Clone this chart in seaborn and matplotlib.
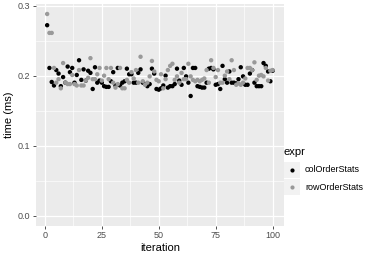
import matplotlib
matplotlib.use("Agg")
import matplotlib.pyplot as plt
from matplotlib.lines import Line2D
from matplotlib.patches import Rectangle
import seaborn as sns
import pandas as pd
import numpy as np

# data
iterations = list(range(1, 101))
col_order_stats = [
    0.272, 0.211, 0.191, 0.186, 0.208, 0.203, 0.185, 0.198, 0.190, 0.213,
    0.205, 0.211, 0.190, 0.201, 0.222, 0.194, 0.209, 0.193, 0.207, 0.204,
    0.181, 0.212, 0.190, 0.193, 0.190, 0.185, 0.184, 0.184, 0.192, 0.205,
    0.186, 0.211, 0.186, 0.190, 0.192, 0.210, 0.202, 0.202, 0.190, 0.190,
    0.204, 0.209, 0.190, 0.188, 0.185, 0.188, 0.210, 0.203, 0.181, 0.180,
    0.182, 0.186, 0.200, 0.183, 0.185, 0.185, 0.188, 0.210, 0.193, 0.187,
    0.211, 0.199, 0.190, 0.171, 0.211, 0.211, 0.185, 0.184, 0.183, 0.183,
    0.190, 0.210, 0.211, 0.209, 0.187, 0.188, 0.181, 0.214, 0.195, 0.190,
    0.206, 0.190, 0.190, 0.189, 0.195, 0.212, 0.199, 0.187, 0.187, 0.203,
    0.208, 0.190, 0.185, 0.185, 0.185, 0.218, 0.214, 0.206, 0.192, 0.207,
]
row_order_stats = [
    0.288, 0.261, 0.261, 0.211, 0.190, 0.195, 0.182, 0.218, 0.190, 0.188,
    0.188, 0.201, 0.188, 0.186, 0.208, 0.186, 0.186, 0.193, 0.197, 0.225,
    0.195, 0.195, 0.202, 0.211, 0.193, 0.200, 0.211, 0.195, 0.211, 0.190,
    0.183, 0.188, 0.211, 0.182, 0.182, 0.194, 0.190, 0.205, 0.196, 0.208,
    0.190, 0.227, 0.192, 0.187, 0.190, 0.199, 0.221, 0.206, 0.194, 0.192,
    0.202, 0.182, 0.195, 0.208, 0.214, 0.217, 0.194, 0.199, 0.190, 0.204,
    0.195, 0.195, 0.217, 0.199, 0.194, 0.192, 0.194, 0.192, 0.194, 0.196,
    0.208, 0.190, 0.222, 0.211, 0.198, 0.208, 0.190, 0.190, 0.200, 0.206,
    0.195, 0.222, 0.208, 0.187, 0.189, 0.187, 0.190, 0.196, 0.211, 0.211,
    0.208, 0.219, 0.194, 0.200, 0.201, 0.199, 0.211, 0.193, 0.207, 0.208,
]
expr_names = ["colOrderStats", "rowOrderStats"]
expr_colors = ["black", "#999999"]
x_ticks = [0, 25, 50, 75, 100]
y_ticks = [0.0, 0.1, 0.2, 0.3]

df = pd.DataFrame({
    "iteration": iterations * 2,
    "time": col_order_stats + row_order_stats,
    "expr": [expr_names[0]] * 100 + [expr_names[1]] * 100,
})

plt.rcParams['font.family'] = ['Liberation Sans', 'DejaVu Sans']

fig = plt.figure(figsize=(3.9, 2.6), dpi=100)
ax = fig.add_axes([0.092, 0.131, 0.636, 0.854])
ax.set_facecolor("#EBEBEB")

sns.scatterplot(data=df, x="iteration", y="time", hue="expr",
                palette=dict(zip(expr_names, expr_colors)),
                s=10, linewidth=0, legend=False, ax=ax, zorder=3)

# ggplot-like limits (5% expansion, y includes 0)
xr = df["iteration"].max() - df["iteration"].min()
ax.set_xlim(df["iteration"].min() - 0.05 * xr, df["iteration"].max() + 0.05 * xr)
ymax = df["time"].max()
ax.set_ylim(-0.05 * ymax, ymax * 1.05)

ax.set_xticks(x_ticks)
ax.set_yticks(y_ticks)
ax.set_yticklabels(["0.0", "0.1", "0.2", "0.3"])
ax.set_xticks([12.5, 37.5, 62.5, 87.5], minor=True)
ax.set_yticks([0.05, 0.15, 0.25], minor=True)
ax.grid(which="major", color="white", linewidth=0.9)
ax.grid(which="minor", color="white", linewidth=0.45)
ax.set_axisbelow(True)
for sp in ax.spines.values():
    sp.set_visible(False)
ax.tick_params(which="major", length=2.5, width=0.6, color="#333333",
               labelsize=6.5, labelcolor="#4D4D4D", pad=1.5)
ax.tick_params(which="minor", length=0)

ax.set_xlabel("iteration", fontsize=8, color="black", labelpad=2)
ax.set_ylabel("time (ms)", fontsize=8, color="black", labelpad=3)

# legend drawn ggplot-style
fig.text(283 / 390, 1 - 152 / 260, "expr", fontsize=8, va="center", ha="left")
for i, (name, col) in enumerate(zip(expr_names, expr_colors)):
    cy = 170 + i * 17
    fig.add_artist(Rectangle(((284) / 390, 1 - (cy + 8) / 260), 16 / 390, 16 / 260,
                             transform=fig.transFigure, facecolor="#F2F2F2",
                             edgecolor="none"))
    fig.add_artist(Line2D([292 / 390], [1 - cy / 260], marker="o", markersize=3,
                          color=col, markeredgewidth=0, transform=fig.transFigure))
    fig.text(305 / 390, 1 - cy / 260, name, fontsize=6.5, va="center", ha="left")

fig.savefig("out.png", dpi=100)
